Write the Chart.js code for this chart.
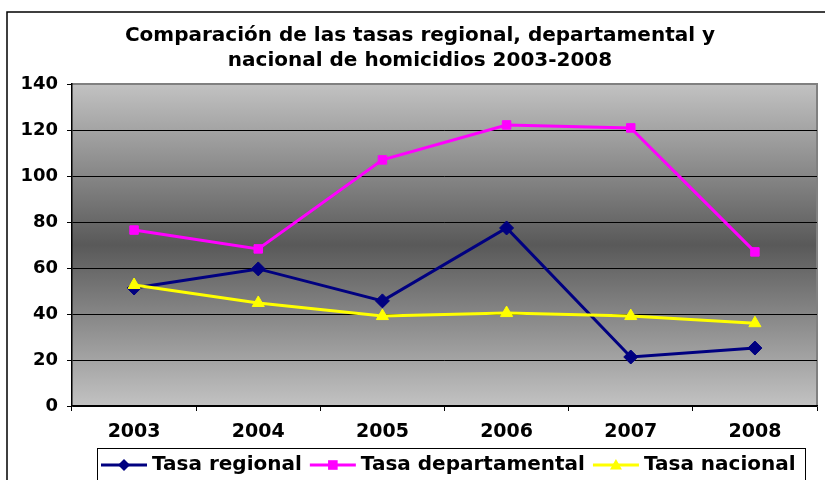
<!DOCTYPE html>
<html>
<head>
<meta charset="utf-8">
<script src="https://cdn.jsdelivr.net/npm/chart.js@4"></script>
<style>
  html, body { margin: 0; padding: 0; background: #fff; }
  #wrap { width: 825px; height: 480px; }
</style>
</head>
<body>
<div id="wrap"><canvas id="chart" width="825" height="480"></canvas></div>
<script>
// ─── DATA ───
const YEARS = ['2003', '2004', '2005', '2006', '2007', '2008'];
const REGIONAL = [51.3, 59.6, 45.7, 77.4, 21.3, 25.2];
const DEPARTAMENTAL = [76.5, 68.3, 107.0, 122.2, 120.9, 67.0];
const NACIONAL = [52.6, 44.8, 39.1, 40.4, 39.1, 36.0];
const TITLE = ['Comparación de las tasas regional, departamental y', 'nacional de homicidios 2003-2008'];

const FONT = "'DejaVu Sans', Verdana, sans-serif";

// ── plot background + outer frame ──
const backdrop = {
  id: 'backdrop',
  beforeDraw(chart) {
    const { ctx, chartArea: a } = chart;
    ctx.save();
    ctx.fillStyle = '#fff';
    ctx.fillRect(0, 0, chart.width, chart.height);
    ctx.strokeStyle = '#000';
    ctx.lineWidth = 1.5;
    ctx.strokeRect(7, 12, 900, 600);
    const g = ctx.createLinearGradient(0, a.top, 0, a.bottom);
    g.addColorStop(0, '#c2c2c2');
    g.addColorStop(0.5, '#595959');
    g.addColorStop(1, '#c2c2c2');
    ctx.fillStyle = g;
    ctx.fillRect(a.left, a.top, a.right - a.left, a.bottom - a.top);
    ctx.strokeStyle = '#808080';
    ctx.lineWidth = 2;
    ctx.beginPath();
    ctx.moveTo(a.left, a.top);
    ctx.lineTo(a.right, a.top);
    ctx.lineTo(a.right, a.bottom);
    ctx.stroke();
    ctx.restore();
  },
};

// ── legend with line + marker, boxed ──
function marker(ctx, style, x, y, r, color) {
  ctx.fillStyle = color;
  ctx.beginPath();
  if (style === 'rectRot') {
    ctx.moveTo(x, y - r); ctx.lineTo(x + r, y); ctx.lineTo(x, y + r); ctx.lineTo(x - r, y);
  } else if (style === 'triangle') {
    ctx.moveTo(x, y - r); ctx.lineTo(x + r, y + r * 0.75); ctx.lineTo(x - r, y + r * 0.75);
  } else {
    ctx.rect(x - r * 0.8, y - r * 0.8, r * 1.6, r * 1.6);
  }
  ctx.closePath();
  ctx.fill();
}

const boxLegend = {
  id: 'boxLegend',
  afterDraw(chart) {
    const { ctx } = chart;
    ctx.save();
    ctx.strokeStyle = '#000';
    ctx.lineWidth = 1;
    ctx.strokeRect(97.5, 448.5, 708, 40);
    ctx.font = 'bold 20px ' + FONT;
    ctx.textBaseline = 'middle';
    ctx.fillStyle = '#000';
    let x = 101;
    const y = 465;
    chart.data.datasets.forEach(ds => {
      ctx.strokeStyle = ds.borderColor;
      ctx.lineWidth = 3;
      ctx.beginPath();
      ctx.moveTo(x, y); ctx.lineTo(x + 46, y);
      ctx.stroke();
      marker(ctx, ds.pointStyle, x + 23, y, 6, ds.borderColor);
      ctx.fillStyle = '#000';
      ctx.fillText(ds.label, x + 51, y);
      x += 51 + ctx.measureText(ds.label).width + 8;
    });
    ctx.restore();
  },
};

const series = (label, data, color, style, order, r) => ({
  label, data, order,
  borderColor: color, backgroundColor: color,
  pointBackgroundColor: color, pointBorderColor: color,
  borderWidth: 3, pointStyle: style, pointRadius: r, pointBorderWidth: 1,
  tension: 0,
});

new Chart(document.getElementById('chart'), {
  type: 'line',
  data: {
    labels: YEARS,
    datasets: [
      series('Tasa regional', REGIONAL, '#000080', 'rectRot', 2, 7),
      series('Tasa departamental', DEPARTAMENTAL, '#ff00ff', 'rect', 1, 6),
      series('Tasa nacional', NACIONAL, '#ffff00', 'triangle', 0, 7),
    ],
  },
  options: {
    responsive: false, animation: false,
    layout: { padding: { top: 0, right: 5, left: 20, bottom: 0 } },
    plugins: {
      legend: { display: false },
      tooltip: { enabled: false },
      title: {
        display: true, text: TITLE, color: '#000',
        font: { family: FONT, size: 20, weight: 'bold', lineHeight: 1.25 },
        padding: { top: 23, bottom: 11 },
      },
    },
    scales: {
      x: {
        offset: true,
        afterFit: s => { s.height = 74; },
        grid: { offset: true, drawOnChartArea: false, drawTicks: true, tickLength: 5, tickColor: '#000' },
        border: { color: '#000', width: 1.5 },
        ticks: { color: '#000', padding: 10, font: { family: FONT, size: 19, weight: 'bold' } },
      },
      y: {
        min: 0, max: 140,
        afterFit: s => { s.width = 52; },
        grid: {
          color: c => (c.tick.value === 140 ? 'rgba(0,0,0,0)' : '#000'),
          tickColor: '#000', tickLength: 5, lineWidth: 1,
        },
        border: { color: '#000', width: 1.5 },
        ticks: { stepSize: 20, color: '#000', padding: 9, font: { family: FONT, size: 18, weight: 'bold' } },
      },
    },
  },
  plugins: [backdrop, boxLegend],
});
</script>
</body>
</html>
